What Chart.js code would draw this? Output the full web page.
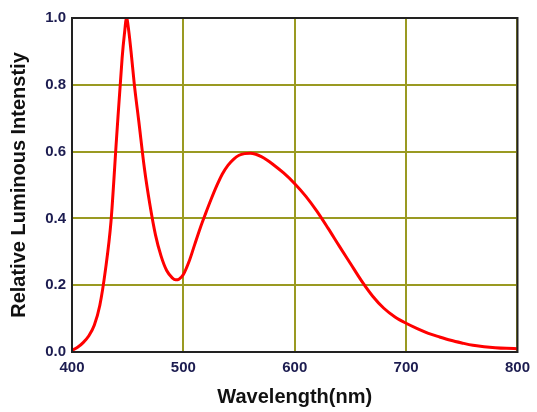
<!DOCTYPE html>
<html lang="en">
<head>
    <meta charset="UTF-8">
    <title>Relative Luminous Intensity</title>
    <script src="https://cdn.jsdelivr.net/npm/chart.js"></script>
    <style>
        html, body { margin: 0; padding: 0; background: #fff; }
        .chart-wrapper { width: 537px; height: 412px; }
    </style>
</head>
<body>
    <div class="chart-wrapper">
        <canvas id="spectrum"></canvas>
    </div>

    <script>
        // wavelength (nm) and relative intensity
        const wavelengths = [400, 405, 410, 415, 420, 425, 430, 435, 440, 445, 447, 449, 451, 453, 456,
            460, 465, 470, 475, 480, 485, 490, 493, 496, 500, 505, 510, 515, 520, 525, 530, 535,
            540, 545, 550, 555, 560, 565, 570, 575, 580, 590, 600, 610, 620, 630, 640, 650, 660, 670, 680, 690,
            700, 710, 720, 730, 740, 750, 760, 770, 780, 790, 800];
        const intensity = [0.005, 0.014, 0.028, 0.048, 0.08, 0.14, 0.245, 0.39, 0.64, 0.88, 0.95, 1.0, 0.96, 0.9, 0.8,
            0.69, 0.55, 0.44, 0.35, 0.287, 0.244, 0.222, 0.216, 0.218, 0.232, 0.27, 0.32, 0.37, 0.415, 0.458, 0.498, 0.533,
            0.559, 0.577, 0.589, 0.594, 0.595, 0.592, 0.585, 0.575, 0.563, 0.536, 0.504, 0.466, 0.421, 0.37, 0.317, 0.265,
            0.213, 0.167, 0.131, 0.105,
            0.086, 0.07, 0.056, 0.045, 0.035, 0.027, 0.02, 0.016, 0.013, 0.011, 0.01];
        const xTicks = [400, 500, 600, 700, 800];
        const yTicks = [0, 0.2, 0.4, 0.6, 0.8, 1.0];

        const points = wavelengths.map((w, i) => ({ x: w, y: intensity[i] }));

        const gridColor = '#9a9a22';
        const tickFont = { family: 'Liberation Sans, Arial, sans-serif', size: 15, weight: 'bold' };
        const titleFont = { family: 'Liberation Sans, Arial, sans-serif', size: 20, weight: 'bold' };

        // box round the plot area
        const frame = {
            id: 'frame',
            afterDatasetsDraw(chart) {
                const a = chart.chartArea;
                const ctx = chart.ctx;
                ctx.save();
                ctx.strokeStyle = '#222';
                ctx.lineWidth = 2;
                ctx.strokeRect(a.left, a.top, a.right - a.left, a.bottom - a.top);
                ctx.restore();
            }
        };

        new Chart(document.getElementById('spectrum').getContext('2d'), {
            type: 'line',
            data: {
                datasets: [{
                    data: points,
                    borderColor: '#ff0000',
                    borderWidth: 3,
                    pointRadius: 0,
                    fill: false,
                    cubicInterpolationMode: 'monotone'
                }]
            },
            options: {
                responsive: true,
                maintainAspectRatio: false,
                animation: false,
                layout: { padding: { top: 18, right: 15, left: 0, bottom: 0 } },
                plugins: { legend: { display: false }, tooltip: { enabled: false } },
                scales: {
                    x: {
                        type: 'linear',
                        min: 400,
                        max: 800,
                        afterBuildTicks: s => { s.ticks = xTicks.map(v => ({ value: v })); },
                        afterFit: s => { s.height = 60; },
                        grid: { color: gridColor, lineWidth: 2, drawTicks: false },
                        border: { color: '#222', width: 2 },
                        ticks: { font: tickFont, color: '#1c1c50', padding: 7, maxRotation: 0 },
                        title: {
                            display: true,
                            text: 'Wavelength(nm)',
                            font: titleFont,
                            color: '#111',
                            padding: { top: 3, bottom: 3 }
                        }
                    },
                    y: {
                        min: 0,
                        max: 1,
                        afterBuildTicks: s => { s.ticks = yTicks.map(v => ({ value: v })); },
                        afterFit: s => { s.width = 72; },
                        grid: { color: gridColor, lineWidth: 2, drawTicks: false },
                        border: { color: '#222', width: 2 },
                        ticks: {
                            font: tickFont,
                            color: '#1c1c50',
                            padding: 6,
                            callback: v => v.toFixed(1)
                        },
                        title: {
                            display: true,
                            text: 'Relative Luminous Intenstiy',
                            font: titleFont,
                            color: '#111',
                            padding: { top: 7, bottom: 7 }
                        }
                    }
                }
            },
            plugins: [frame]
        });
    </script>
</body>
</html>
